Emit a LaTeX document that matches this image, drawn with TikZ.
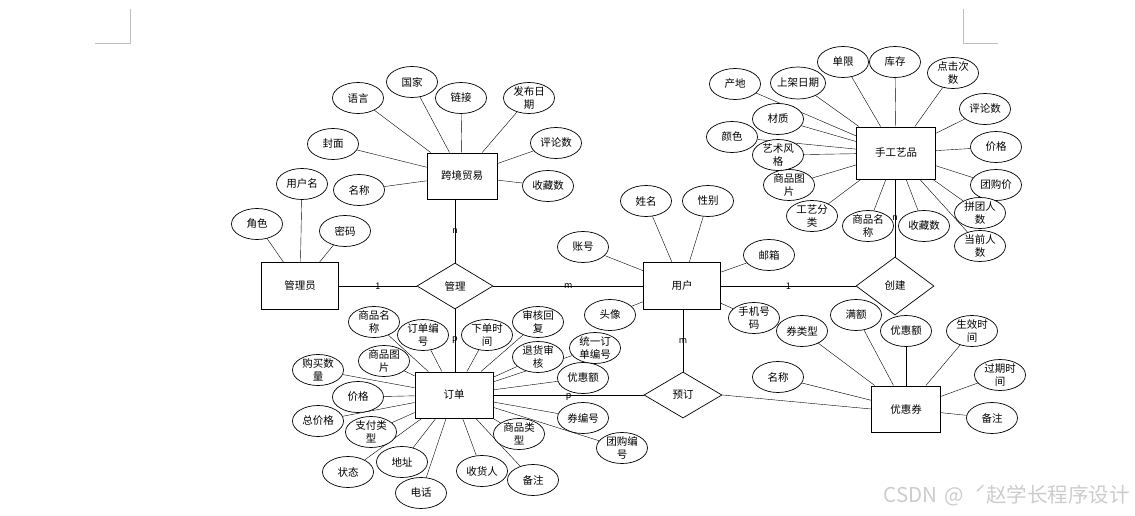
\documentclass[tikz,border=0pt]{standalone}
\usepackage{fontspec}
\setmainfont{Noto Sans CJK SC}
\usetikzlibrary{shapes.geometric,backgrounds}
\tikzset{
  entity/.style = {draw, fill = white, line width = 0.9pt, minimum width = 77pt, minimum height = 47pt, inner sep = 0pt},
  attr/.style = {draw, ellipse, fill = white, minimum width = 51pt, minimum height = 31pt, inner sep = 0pt},
  attrtext/.style = {align = center, inner sep = 0pt},
  rel/.style = {draw, diamond, fill = white, minimum width = 76pt, minimum height = 46pt, inner sep = 0pt},
  card/.style = {font = \fontsize{9}{10}\selectfont, inner sep = 0pt},
}
\begin{document}
\begin{tikzpicture}[x = 1pt, y = -1pt, font = \fontsize{10.5}{12.5}\selectfont, line width = 0.7pt]
\useasboundingbox (0,0) rectangle (1135,516);
% page corner marks
\draw [gray!50, line width = 0.6pt] (130,9) -- (130,43) -- (95,43);
\draw [gray!50, line width = 0.6pt] (963,9) -- (963,43) -- (998,43);
% entities
\node [entity, minimum width = 70pt, minimum height = 46pt] (trade) at (462,176) {跨境贸易};
\node [entity] (admin) at (300,286) {管理员};
\node [entity] (user) at (682,286) {用户};
\node [entity, minimum width = 79pt, minimum height = 52pt] (craft) at (896,153) {手工艺品};
\node [entity, minimum width = 78pt, minimum height = 46pt] (order) at (454,395) {订单};
\node [entity, minimum width = 69pt, minimum height = 46pt] (coupon) at (906,409) {优惠券};
% relations
\node [rel] (manage) at (455,286) {管理};
\node [rel, minimum width = 78pt, minimum height = 58pt] (create) at (895,286) {创建};
\node [rel, minimum width = 78pt] (book) at (683,395) {预订};
% attributes
\foreach \n/\p/\t in {yy/{358,98}/语言, gj/{412,82}/国家, lj/{461,98}/链接, fbrq/{529,98}/{发布日\\期},
    tpls/{556,143}/评论数, tscs/{548,186}/收藏数, fm/{333,144}/封面, tmc/{359,190}/名称,
    yhm/{302,184}/用户名, js/{257,224}/角色, mm/{345,231}/密码,
    xm/{646,201}/姓名, xb/{708,201}/性别, zh/{583,247}/账号, yx/{769,255}/邮箱, tx/{610,315}/头像, sjhm/{754,318}/{手机号\\码},
    cd/{735,84}/产地, dx/{843,62}/单限, kc/{895,62}/库存, djcs/{953,73}/{点击次\\数},
    cpls/{985,109}/评论数, cjg/{996,147}/价格, tgj/{996,185}/团购价, ptrs/{980,213}/{拼团人\\数},
    dqrs/{980,246}/{当前人\\数}, ccs/{924,226}/收藏数, cspmc/{868,226}/{商品名\\称}, gyfl/{812,216}/{工艺分\\类},
    csptp/{789,185}/{商品图\\片}, ysfg/{778,155}/{艺术风\\格}, ys/{732,137}/颜色, cz/{778,119}/材质,
    ospmc/{374,322}/{商品名\\称}, ddbh/{423,335}/{订单编\\号}, xdsj/{487,335}/{下单时\\间}, shhf/{538,322}/{审核回\\复},
    thsh/{538,357}/{退货审\\核}, tyddbh/{595,348}/{统一订\\单编号}, oyhe/{583,378}/优惠额, qbh/{583,418}/券编号,
    tgbh/{622,448}/{团购编\\号}, splx/{519,434}/{商品类\\型}, obz/{533,480}/备注, shr/{482,471}/收货人,
    dh/{421,493}/电话, dz/{402,462}/地址, zt/{348,472}/状态, zflx/{371,432}/{支付类\\型},
    zjg/{318,421}/总价格, ojg/{358,397}/价格, gmsl/{318,370}/{购买数\\量}, osptp/{384,361}/{商品图\\片},
    qlx/{802,331}/券类型, me/{856,315}/满额, qyhe/{906,331}/优惠额, sxsj/{972,331}/{生效时\\间},
    gqsj/{1000,375}/{过期时\\间}, qbz/{992,418}/备注, qmc/{778,377}/名称}
  \node [attr] (\n) at (\p) {} node [attrtext] (\n-t) at (\p) {\t};
\node [attr, minimum width = 55pt, minimum height = 32pt] (sjrq) at (798,83) {} node [attrtext] (sjrq-t) at (798,83) {上架日期};
% connectors
\begin{pgfonlayer}{background}
\foreach \a in {yy,gj,lj,fbrq,tpls,tscs,fm,tmc} \draw (\a) -- (trade);
\foreach \a in {yhm,js,mm} \draw (\a) -- (admin);
\foreach \a in {xm,xb,zh,yx,tx,sjhm} \draw (\a) -- (user);
\foreach \a in {cd,sjrq,dx,kc,djcs,cpls,cjg,tgj,ptrs,dqrs,ccs,cspmc,gyfl,csptp,ysfg,ys,cz} \draw (\a) -- (craft);
\foreach \a in {ospmc,ddbh,xdsj,shhf,thsh,tyddbh,oyhe,qbh,tgbh,splx,obz,shr,dh,dz,zt,zflx,zjg,ojg,gmsl,osptp} \draw (\a) -- (order);
\foreach \a in {qlx,me,qyhe,sxsj,gqsj,qbz,qmc} \draw (\a) -- (coupon);
\draw (admin) -- (manage) node [card, midway] (c1) {1};
\draw (manage) -- (user) node [card, midway] (c2) {m};
\draw (manage.north) -- (manage.north |- trade.south) node [card, midway] (c3) {n};
\draw (manage.south) -- (manage.south |- order.north) node [card, midway] (c4) {p};
\draw (user.south -| book.north) -- (book.north) node [card, midway] (c5) {m};
\draw (user) -- (create) node [card, midway] (c6) {1};
\draw (order) -- (book) node [card, midway, yshift = -2pt] (c7) {p};
\draw (create.north) -- (create.north |- craft.south) node [card, midway] (c8) {n};
\draw (book.east) -- (coupon.west);
\end{pgfonlayer}
% watermark
\node [gray!40, font = \fontsize{20.5}{22}\selectfont, anchor = east, inner sep = 0pt] (wm) at (1130,496) {CSDN\,\,@\,\,\,ˊ赵学长程序设计};
\end{tikzpicture}
\end{document}
